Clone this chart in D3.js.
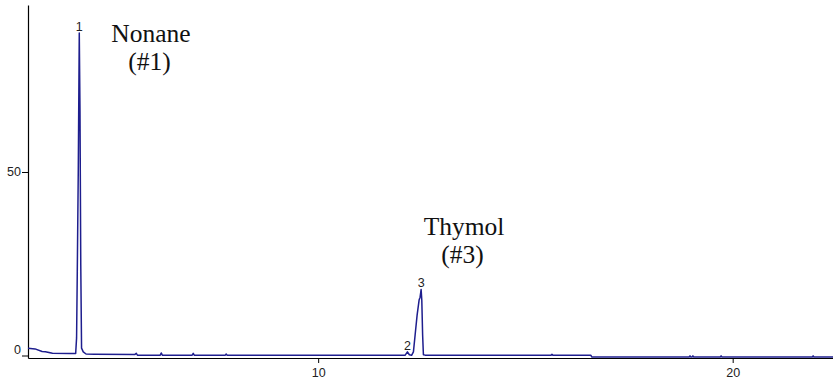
<!DOCTYPE html>
<html>
<head>
<meta charset="utf-8">
<script src="https://cdn.jsdelivr.net/npm/d3@7"></script>
<style>
  html, body { margin: 0; padding: 0; background: #ffffff; }
  svg { display: block; }
  .tick text { font-family: "Liberation Sans", Arial, sans-serif; font-size: 12.5px; fill: #222; }
</style>
</head>
<body>
<svg id="chart" width="833" height="385"></svg>
<script>
// Retention time (min) and detector signal
const times = [3.00, 3.17, 3.34, 3.42, 3.59, 4.00, 4.15, 4.172, 4.189, 4.213, 4.237, 4.254, 4.273, 4.292, 4.333, 4.40, 4.60,
  5.58, 5.612, 5.64, 6.19, 6.214, 6.24, 6.96, 6.986, 7.01, 7.76, 7.781, 7.80,
  12.10, 12.153, 12.20, 12.254, 12.298, 12.339, 12.387, 12.435, 12.459, 12.484, 12.500, 12.520, 12.539, 12.58,
  15.62, 15.64, 15.66, 16.58, 16.60, 18.95, 18.97, 18.99, 19.02, 19.04, 19.06, 19.70, 19.72, 19.74, 21.92, 21.94, 21.96, 22.45];
const signal = [2.0, 1.8, 1.1, 1.05, 0.6, 0.55, 0.55, 4.8, 22.8, 50.5, 87.9, 66.9, 24.7, 2.0, 1.0, 0.4, 0.35,
  0.3, 0.6, 0.1, 0.1, 0.7, 0.1, 0.1, 0.6, 0.1, 0.1, 0.4, 0.1,
  0.1, 1.0, 0.2, 0.05, 1.0, 5.6, 11.0, 15.1, 15.9, 18.0, 15.1, 5.6, 0.2, 0.1,
  0.1, 0.3, 0.1, 0.05, -0.4, -0.4, -0.1, -0.4, -0.4, -0.1, -0.4, -0.4, -0.1, -0.4, -0.4, -0.1, -0.4, -0.4];

const peakLabels = ["1", "2", "3"];
const peakTimes = [4.237, 12.153, 12.484];
const peakHeights = [87.9, 1.0, 18.0];

const xTicks = [10, 20];
const yTicks = [0, 50];
const xDomain = [3.0, 22.42];
const yDomain = [-0.68, 95.5];

const compoundNames = ["Nonane", "Thymol"];
const compoundIds = ["(#1)", "(#3)"];

const svg = d3.select("#chart");
const x = d3.scaleLinear().domain(xDomain).range([28, 833]);
const y = d3.scaleLinear().domain(yDomain).range([358, 5]);

// Axes
const xAxis = svg.append("g").attr("transform", "translate(0,358)")
  .call(d3.axisBottom(x).tickValues(xTicks).tickFormat(d3.format("d")).tickSize(5).tickSizeOuter(0));
xAxis.select(".domain").attr("stroke", "#000").attr("stroke-width", 1.2);
xAxis.selectAll(".tick line").attr("stroke", "#000");
xAxis.selectAll(".tick text").attr("dy", "0.85em");

const yAxis = svg.append("g").attr("transform", "translate(28,0)")
  .call(d3.axisLeft(y).tickValues(yTicks).tickFormat(d3.format("d")).tickSize(6).tickSizeOuter(0).tickPadding(1));
yAxis.select(".domain").attr("stroke", "#000").attr("stroke-width", 1.2);
yAxis.selectAll(".tick line").attr("stroke", "#000");
yAxis.selectAll(".tick text").filter(d => d === 0).attr("dy", "-0.2em");

// Trace
const pts = times.map((t, i) => [t, signal[i]]);
svg.append("path")
  .datum(pts)
  .attr("fill", "none")
  .attr("stroke", "#1e1e8e")
  .attr("stroke-width", 1.5)
  .attr("stroke-linejoin", "round")
  .attr("d", d3.line().x(d => x(d[0])).y(d => y(d[1])));

// Peak number labels
svg.selectAll("text.peak").data(peakLabels).enter().append("text")
  .attr("class", "peak")
  .attr("x", (d, i) => x(peakTimes[i]))
  .attr("y", (d, i) => y(peakHeights[i]) - 2)
  .attr("text-anchor", "middle")
  .style("font-family", "'Liberation Sans', Arial, sans-serif")
  .style("font-size", "12.5px")
  .attr("fill", "#222")
  .text(d => d);

// Compound annotations
const annPos = [[151, 41.5], [464, 235]];
compoundNames.forEach((name, i) => {
  const g = svg.append("text")
    .attr("text-anchor", "middle")
    .style("font-family", "'Liberation Serif', 'Times New Roman', serif")
    .style("font-size", "25.5px")
    .attr("fill", "#111");
  g.append("tspan").attr("x", annPos[i][0]).attr("y", annPos[i][1]).text(name);
  g.append("tspan").attr("x", annPos[i][0] - 1.5).attr("y", annPos[i][1] + 28).text(compoundIds[i]);
});
</script>
</body>
</html>
